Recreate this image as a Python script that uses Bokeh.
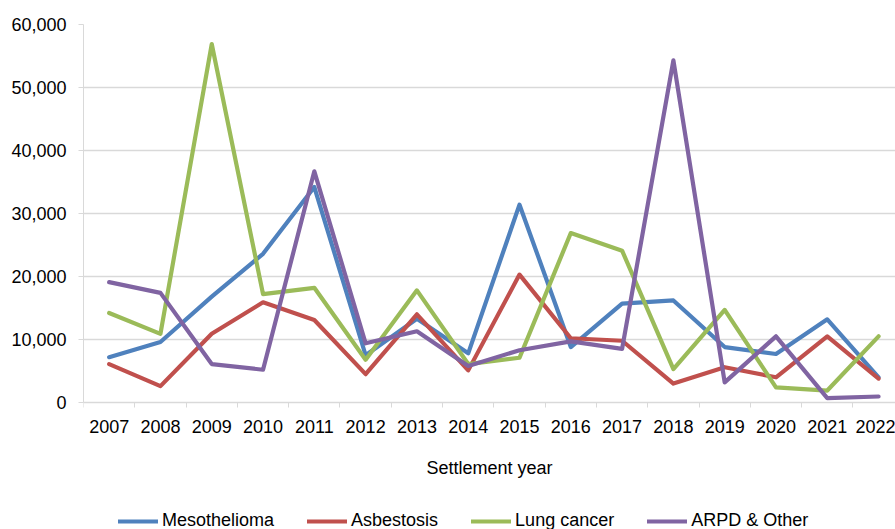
from bokeh.plotting import figure
from bokeh.models import FixedTicker, NumeralTickFormatter, Legend, LegendItem, Range1d
from bokeh.embed import file_html
from bokeh.resources import INLINE

years = list(range(2007, 2023))
mesothelioma = [7200, 9600, 16800, 23600, 34200, 7500, 13300, 7800, 31400, 8800, 15700, 16200, 8800, 7700, 13200, 4000]
asbestosis = [6100, 2600, 10900, 15900, 13100, 4500, 14000, 5100, 20300, 10200, 9800, 3000, 5600, 4000, 10500, 3800]
lung_cancer = [14200, 10900, 56900, 17200, 18200, 6800, 17800, 6100, 7100, 26900, 24100, 5300, 14700, 2400, 1900, 10500]
arpd_other = [19100, 17400, 6100, 5200, 36700, 9400, 11300, 5800, 8300, 9700, 8500, 54300, 3200, 10500, 700, 950]

series_names = ["Mesothelioma", "Asbestosis", "Lung cancer", "ARPD & Other"]
series_values = [mesothelioma, asbestosis, lung_cancer, arpd_other]
colors = ["#4F81BD", "#C0504D", "#9BBB59", "#8064A2"]
y_ticks = [0, 10000, 20000, 30000, 40000, 50000, 60000]

FONT = "Liberation Sans"
GRID = "#d9d9d9"

W, H = 895, 529
TOP, LEFT = 24, 83
AXIS_PX = 402          # pixel row of the value 0
Y_MAX = 60000
# extend the frame down to the bottom so the legend can sit inside it
y_min = -Y_MAX * (H - AXIS_PX) / (AXIS_PX - TOP)

p = figure(width=W, height=H,
           x_range=Range1d(2006.5, 2022.33), y_range=Range1d(y_min, Y_MAX),
           output_backend="svg", toolbar_location=None,
           min_border_left=LEFT, min_border_right=0, min_border_top=TOP, min_border_bottom=0)
p.outline_line_color = None
p.background_fill_color = "white"
p.border_fill_color = "white"

items = []
for name, vals, c in zip(series_names, series_values, colors):
    r = p.line(years, vals, line_color=c, line_width=4.2, line_cap="round", line_join="round")
    items.append(LegendItem(label=name, renderers=[r]))

# x axis, pinned at value 0
p.xaxis.fixed_location = 0
p.xaxis.ticker = FixedTicker(ticks=years, minor_ticks=[y - 0.5 for y in years] + [years[-1] + 0.5])
p.xaxis.major_tick_line_color = None
p.xaxis.major_tick_out = 0
p.xaxis.major_tick_in = 0
p.xaxis.minor_tick_out = 5
p.xaxis.minor_tick_in = 0
p.xaxis.minor_tick_line_color = GRID
p.xaxis.axis_line_color = GRID
p.xaxis.major_label_text_font = FONT
p.xaxis.major_label_text_font_size = "18px"
p.xaxis.major_label_text_color = "black"
p.xaxis.major_label_standoff = 12
p.xaxis.axis_label = "Settlement year"
p.xaxis.axis_label_text_font = FONT
p.xaxis.axis_label_text_font_size = "18px"
p.xaxis.axis_label_text_font_style = "normal"
p.xaxis.axis_label_text_color = "black"
p.xaxis.axis_label_standoff = 22

# y axis
p.yaxis.ticker = FixedTicker(ticks=y_ticks)
p.yaxis.bounds = (0, Y_MAX)
p.yaxis.formatter = NumeralTickFormatter(format="0,0")
p.yaxis.major_tick_out = 5
p.yaxis.major_tick_in = 0
p.yaxis.major_tick_line_color = GRID
p.yaxis.minor_tick_line_color = None
p.yaxis.axis_line_color = GRID
p.yaxis.major_label_text_font = FONT
p.yaxis.major_label_text_font_size = "18px"
p.yaxis.major_label_text_color = "black"
p.yaxis.major_label_standoff = 12

p.xgrid.grid_line_color = None
p.ygrid.ticker = FixedTicker(ticks=y_ticks)
p.ygrid.grid_line_color = GRID
p.ygrid.grid_line_width = 1.5

legend = Legend(items=items, location=(35, -2), orientation="horizontal",
                label_text_font=FONT, label_text_font_size="18px", label_text_color="black",
                glyph_width=40, glyph_height=20, label_standoff=4, spacing=33,
                padding=0, margin=0, border_line_color=None, background_fill_alpha=0)
p.add_layout(legend, "center")

open("out.html", "w").write(file_html(p, INLINE))
